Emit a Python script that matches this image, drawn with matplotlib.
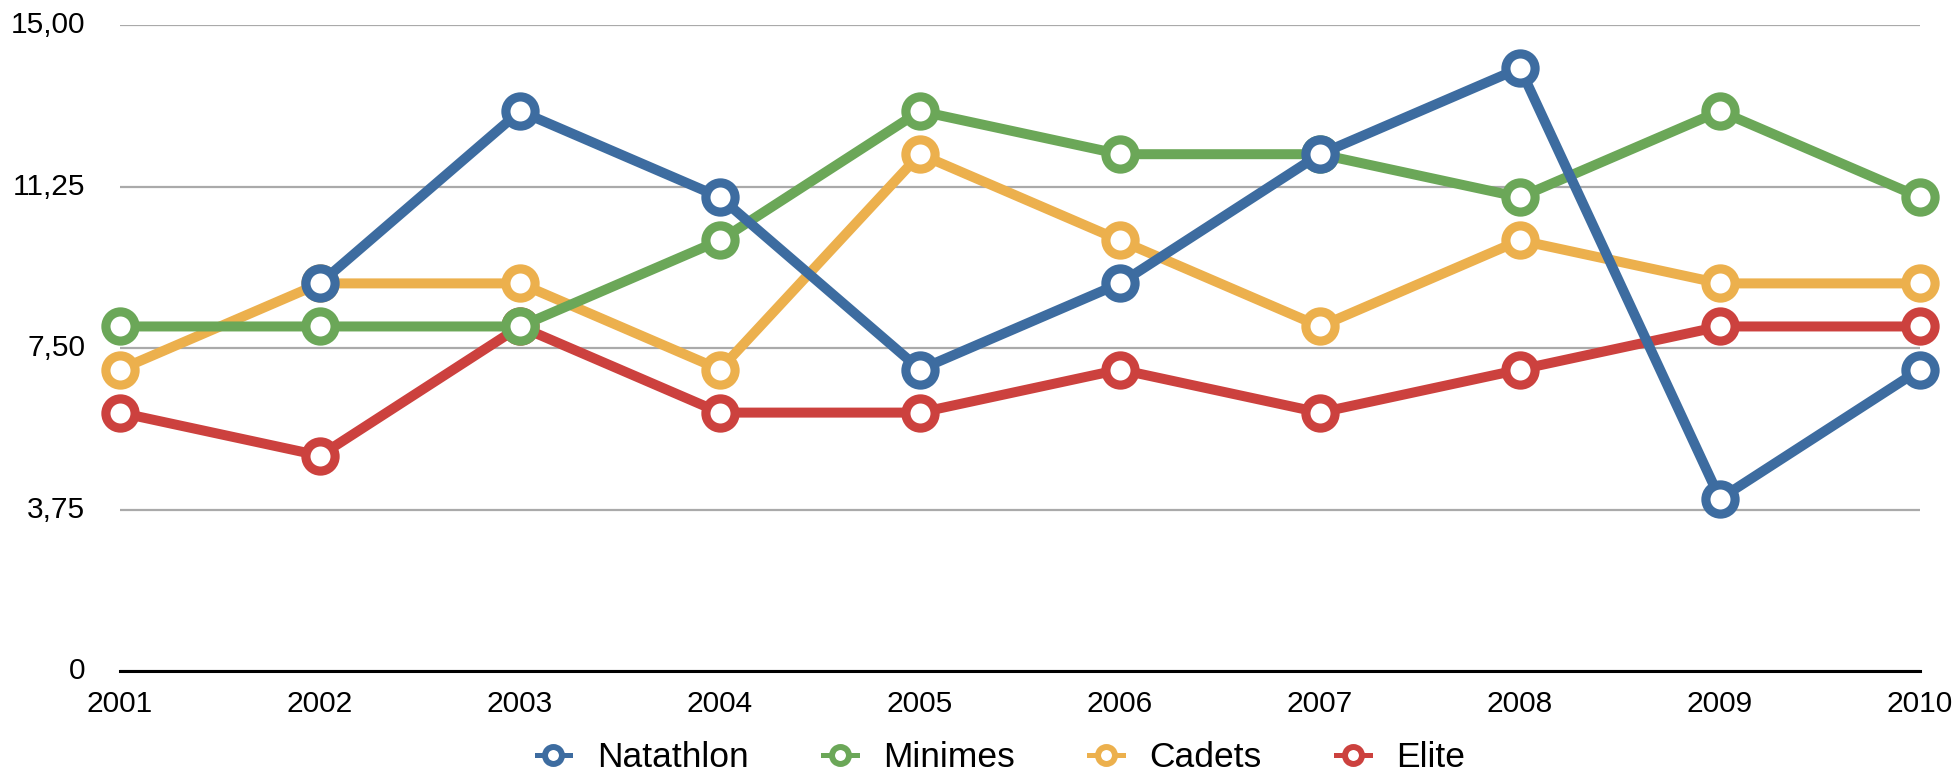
import numpy as np
import matplotlib.pyplot as plt
from matplotlib.lines import Line2D

plt.rcParams['font.family'] = ['Liberation Sans', 'DejaVu Sans']

# Données
years = [2001, 2002, 2003, 2004, 2005, 2006, 2007, 2008, 2009, 2010]
natathlon = [np.nan, 9, 13, 11, 7, 9, 12, 14, 4, 7]
minimes = [8, 8, 8, 10, 13, 12, 12, 11, 13, 11]
cadets = [7, 9, 9, 7, 12, 10, 8, 10, 9, 9]
elite = [6, 5, 8, 6, 6, 7, 6, 7, 8, 8]

y_ticks = [0, 3.75, 7.5, 11.25, 15]
y_labels = ['0', '3,75', '7,50', '11,25', '15,00']

series = [
    ('Natathlon', natathlon, '#3D6CA0'),
    ('Minimes', minimes, '#6BA758'),
    ('Cadets', cadets, '#ECB04D'),
    ('Elite', elite, '#CC413E'),
]

fig = plt.figure(figsize=(19.55, 7.73), dpi=100)
ax = fig.add_axes([120 / 1955, 1 - 671 / 773, 1800 / 1955, 646 / 773])

# Ordre de dessin: le bleu au-dessus
for name, vals, col in series[::-1]:
    ax.plot(years, vals, color=col, linewidth=7.2, marker='o', markersize=21,
            markeredgewidth=6.6, markerfacecolor='white', markeredgecolor=col,
            clip_on=False, zorder=3, solid_capstyle='round')

ax.set_xlim(2001, 2010)
ax.set_ylim(0, 15)
ax.set_xticks(years)
ax.set_xticklabels([str(y) for y in years])
ax.set_yticks(y_ticks)
ax.set_yticklabels(y_labels)
ax.tick_params(axis='both', length=0, labelsize=21.5)
ax.tick_params(axis='x', pad=14)
ax.tick_params(axis='y', pad=25)
for lab in ax.get_yticklabels():
    lab.set_verticalalignment('center')

ax.grid(axis='y', color='#AAAAAA', linewidth=1.6, zorder=0)
ax.grid(axis='x', visible=False)
for s in ['left', 'right', 'top']:
    ax.spines[s].set_visible(False)
ax.spines['bottom'].set_color('black')
ax.spines['bottom'].set_linewidth(2.2)
ax.spines['bottom'].set_zorder(2)

# Légende
handles = [Line2D([0], [0], color=col, linewidth=3.6, marker='o', markersize=12.2,
                  markeredgewidth=4.3, markerfacecolor='white', markeredgecolor=col)
           for name, vals, col in series]
fig.legend(handles, [s[0] for s in series], loc='center', bbox_to_anchor=(0.512, 0.02),
           ncol=4, frameon=False, fontsize=25.5, handlelength=0.95,
           handletextpad=0.75, columnspacing=2.1)

plt.savefig('out.png', dpi=100)
